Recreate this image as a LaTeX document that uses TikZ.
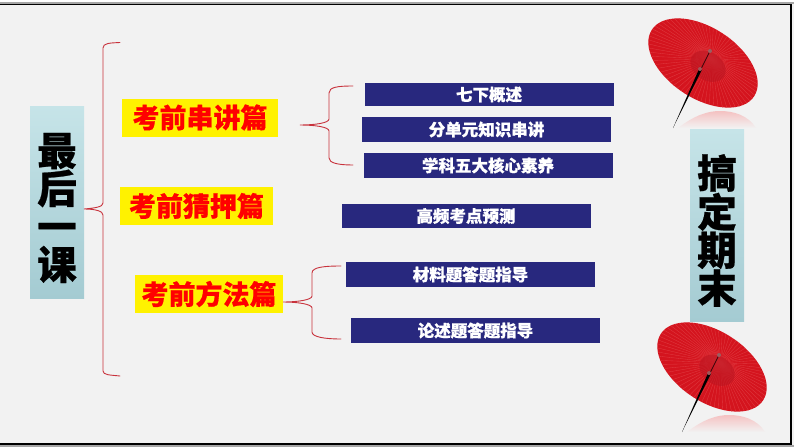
\documentclass[tikz,border=0pt]{standalone}
\usepackage{fontspec}
\newfontfamily\cjk{Noto Sans CJK SC}[BoldFeatures={FakeBold=0.6}]
\definecolor{bgc}{HTML}{F2F2F2}
\definecolor{navy}{HTML}{28287E}
\definecolor{brc}{HTML}{C8323C}
\definecolor{umb}{HTML}{D4141E}
\definecolor{umbd}{HTML}{BC1420}
\definecolor{umbl}{HTML}{E03A40}
\definecolor{tealt}{HTML}{C6E4E8}
\definecolor{tealb}{HTML}{A4CBD2}
\tikzset{
  navbox/.style={fill=navy,text=white,minimum width=249pt,minimum height=24.5pt,inner sep=0pt,font=\cjk\bfseries\fontsize{16.5}{16.5}\selectfont},
  yelbox/.style={fill=yellow,text=red,inner sep=0pt,minimum height=38pt,font=\cjk\bfseries\fontsize{27}{27}\selectfont},
  tealbox/.style={top color=tealt,bottom color=tealb,minimum width=54pt,minimum height=192pt,inner sep=0pt},
  tealtext/.style={text=black,inner sep=0pt,align=center,font=\cjk\bfseries\fontsize{39.5}{38}\selectfont},
  brace/.style={draw=brc,line width=0.9pt,line cap=round}
}
\newcommand{\umbrella}[2]{%
  \begin{scope}[shift={(#1,#2)}]
    \shade[top color=red!20!bgc,bottom color=bgc] (-25,65) .. controls (-8,52) and (5,48) .. (17,48) .. controls (30,48) and (45,52) .. (53,65) -- cycle;
    \begin{scope}[rotate=-33]
      \fill[umb] (0,0) ellipse [x radius=61pt,y radius=35.5pt];
      \clip (0,0) ellipse [x radius=61pt,y radius=35.5pt];
      \foreach \a in {0,5,...,355} {
        \draw[umbl,line width=0.35pt] (5,-8) -- ({70*cos(\a)},{50*sin(\a)});
      }
      \fill[umbd,opacity=.6] (6,0) ellipse [x radius=19pt,y radius=14pt];
    \end{scope}
    \fill[black] (-30,65) -- (-3.5,5) -- (-1,6.5) -- cycle;
    \draw[black!70!umbd,line width=0.7pt] (-2,6) -- (7,-12);
    \fill[gray!70!umb] (7,-12) circle (2pt);
    \fill[gray!60!umb] (-3,6) circle (2pt);
  \end{scope}}
\begin{document}
\begin{tikzpicture}[x=1pt,y=-1pt]
\useasboundingbox (0,0) rectangle (794,447);
\fill[bgc] (0,0) rectangle (794,447);
\fill[white] (0,0) rectangle (794,2);
\fill[gray!70] (0,2) rectangle (794,3.6);
\fill[black] (0,3.6) rectangle (792,5);
\fill[black] (790,3.6) rectangle (792,445);
\fill[black] (0,443) rectangle (792,445);
\fill[gray!70] (0,445) rectangle (794,447);
\umbrella{703}{63}
\umbrella{712}{367}
\node[tealbox] (lft) at (57,202) {};
\node[tealbox] (rgt) at (717,225.5) {};
\node[tealtext] (lftt) at ([yshift=-6pt]lft.center) {最\\后\\一\\课};
\node[tealtext] (rgtt) at ([yshift=-5pt]rgt.center) {搞\\定\\期\\末};
\node[yelbox,minimum width=156pt] (ya) at (200,117.5) {考前串讲篇};
\node[yelbox,minimum width=153pt] (yb) at (196.5,206) {考前猜押篇};
\node[yelbox,minimum width=148pt] (yc) at (209,294) {考前方法篇};
\node[navbox,minimum height=23pt] (na) at (489,94.5) {七下概述};
\node[navbox] (nb) at (486.5,129.5) {分单元知识串讲};
\node[navbox] (nc) at (488,165.5) {学科五大核心素养};
\node[navbox] (nd) at (466,216) {高频考点预测};
\node[navbox] (ne) at (470.5,274.5) {材料题答题指导};
\node[navbox] (nf) at (475.5,330.5) {论述题答题指导};
\coordinate (b1t) at (120,42.5);
\coordinate (b1b) at (120,376);
\coordinate (b2t) at (353,86);
\coordinate (b2b) at (353,165);
\coordinate (b2i) at (300,125);
\coordinate (b3t) at (341,266);
\coordinate (b3b) at (341,339);
\path[brace] (b1t) .. controls (110,43) and (103,43) .. (103,48) -- (103,203) .. controls (103,207) and (95,208) .. (lft.east |- 0,209)
  (lft.east |- 0,209) .. controls (95,209) and (103,211) .. (103,215) -- (103,371) .. controls (103,375) and (110,375) .. (b1b);
\path[brace] (b2t) .. controls (338,86) and (329,87) .. (329,93) -- (329,119) .. controls (329,123) and (315,125) .. (b2i) .. controls (315,125) and (329,127) .. (329,131) -- (329,158) .. controls (329,163) and (338,165) .. (b2b);
\path[brace] (b3t) .. controls (325,266) and (312,267) .. (312,273) -- (312,296) .. controls (312,300) and (297,302) .. (yc.east |- 0,302) .. controls (297,302) and (312,304) .. (312,308) -- (312,332) .. controls (312,337) and (325,339) .. (b3b);
\end{tikzpicture}
\end{document}
